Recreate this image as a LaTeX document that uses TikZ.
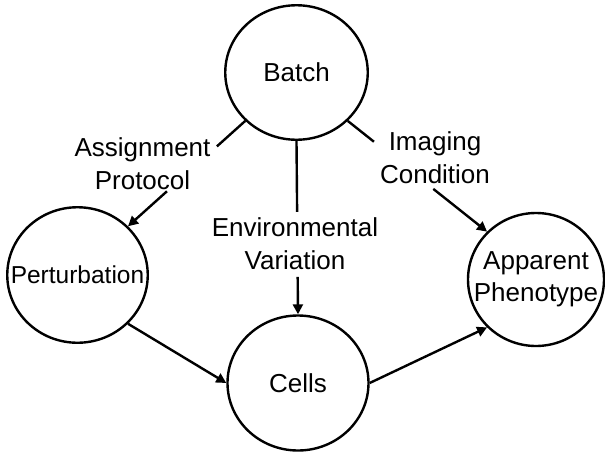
\documentclass[tikz,border=0pt]{standalone}
\usepackage{fontspec}
\setmainfont{Liberation Sans}
\usetikzlibrary{arrows.meta,shapes.geometric}
\begin{document}
\begin{tikzpicture}[x=1pt,y=-1pt,
  var/.style={ellipse,draw,line width=2.4pt,inner sep=0pt,minimum width=141pt,minimum height=135pt,align=center,font=\fontsize{26}{32}\selectfont},
  lbl/.style={align=center,inner sep=0pt,font=\fontsize{26}{33}\selectfont},
  conn/.style={line width=2.4pt},
  arr/.style={line width=2.4pt,-{Triangle[length=10pt,width=10pt]}}]
\useasboundingbox (0,0) rectangle (605,453);
\node[var,minimum width=142.5pt,minimum height=134.5pt] (batch) at (296.5,72.5) {Batch};
\node[var,minimum width=140.5pt,minimum height=135.5pt,font=\fontsize{24.5}{30}\selectfont] (pert) at (77.5,275) {\makebox[0pt][c]{Perturbation}};
\node[var] (cells) at (298,383) {Cells};
\node[var,minimum width=136pt,minimum height=133pt] (app) at (536,279.5) {\makebox[0pt][c]{Apparent}\\\makebox[0pt][c]{Phenotype}};
% Batch -> Perturbation (broken by label)
\path (batch.south west) -- (pert.north east) coordinate[pos=0.242] (a1) coordinate[pos=0.668] (a2);
\draw[conn] (batch.south west) -- (a1);
\draw[arr] (a2) -- (pert.north east);
% Batch -> Cells
\path (batch.south) -- (cells.north) coordinate[pos=0.409] (e1) coordinate[pos=0.784] (e2);
\draw[conn] (batch.south) -- (e1);
\draw[arr] (e2) -- (cells.north);
% Batch -> Apparent Phenotype
\path (batch.south east) -- (app.north west) coordinate[pos=0.188] (i1) coordinate[pos=0.614] (i2);
\draw[conn] (batch.south east) -- (i1);
\draw[arr] (i2) -- (app.north west);
% Perturbation -> Cells, Cells -> Apparent
\draw[arr] (pert.south east) -- (cells.west);
\draw[arr] (cells.east) -- (app.south west);
% labels
\node[lbl] (assign) at (142.5,164) {Assignment\\Protocol};
\node[lbl] (env) at (295,243.5) {Environmental\\Variation};
\node[lbl] (imaging) at (435,157.5) {Imaging\\Condition};
\end{tikzpicture}
\end{document}
